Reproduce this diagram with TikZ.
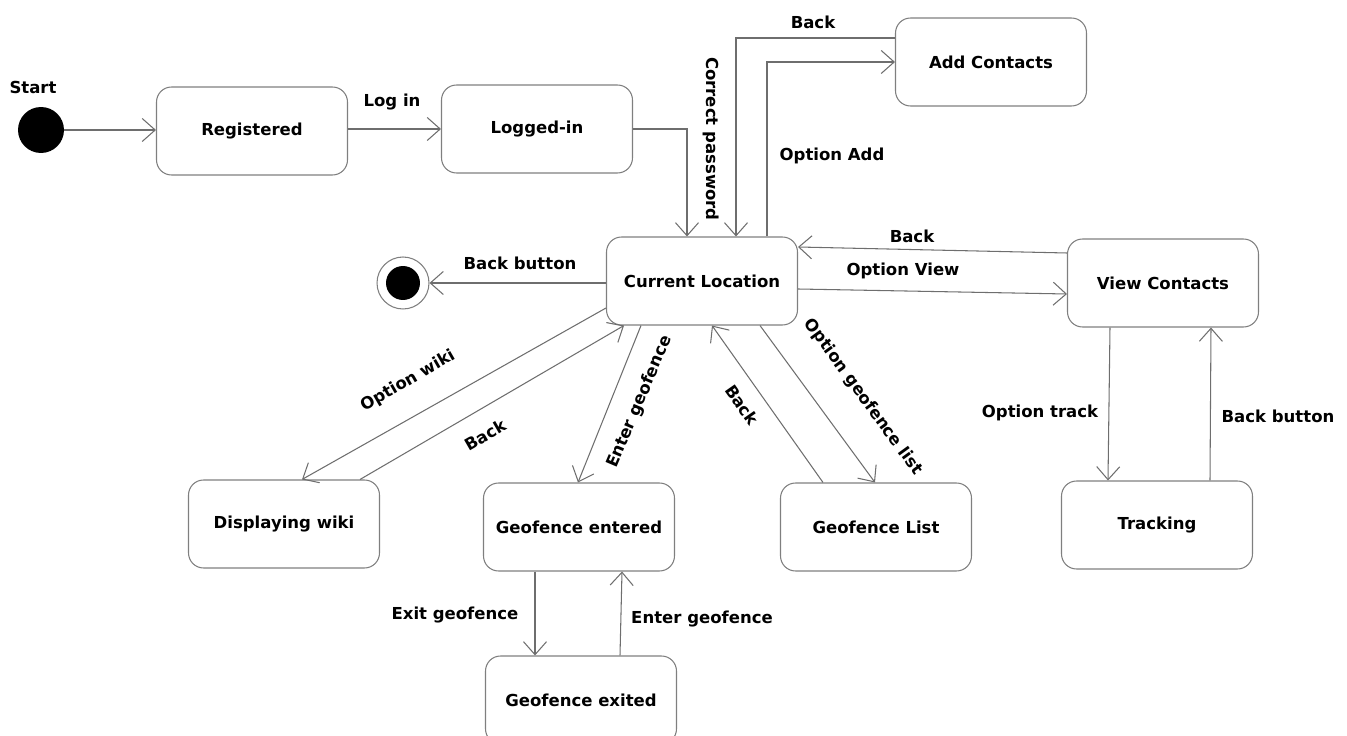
\documentclass[tikz,border=0pt]{standalone}
\usepackage{fontspec}
\setmainfont{DejaVu Sans}
\usetikzlibrary{arrows.meta}
\definecolor{boxgray}{HTML}{7F7F7F}
\definecolor{linegray}{HTML}{6E6E6E}

\begin{document}
\begin{tikzpicture}[x=0.02cm, y=-0.02cm,
    >={Straight Barb[length=2.6mm,width=4.6mm]},
    every node/.style={font=\fontsize{9.4}{11}\selectfont\bfseries},
    state/.style={draw=boxgray, line width=0.6pt, rounded corners=0.3cm,
      minimum width=3.82cm, minimum height=1.76cm},
    flow/.style={->, draw=linegray, line width=0.6pt},
    lbl/.style={inner sep=1pt}]
  \useasboundingbox (0,0) rectangle (1347,736);

  % states
  \node[circle, fill=black, minimum size=0.92cm, inner sep=0pt] (start) at (41,130) {};
  \node[lbl] (lstart) at (33,87) {Start};
  \node[state] (reg) at (252,131) {Registered};
  \node[state] (login) at (537,129) {Logged-in};
  \node[state] (add) at (991,62) {Add Contacts};
  \node[state] (cur) at (702,281) {Current Location};
  \node[circle, draw=boxgray, line width=0.6pt, minimum size=1.04cm, inner sep=0pt] (stop) at (403,283) {};
  \fill (stop) circle[radius=0.34cm];
  \node[state] (view) at (1163,283) {View Contacts};
  \node[state] (wiki) at (284,524) {Displaying wiki};
  \node[state] (gin) at (579,527) {Geofence entered};
  \node[state] (glist) at (876,527) {Geofence List};
  \node[state] (track) at (1157,525) {Tracking};
  \node[state] (gout) at (581,700) {Geofence exited};

  % transitions
  \draw[flow] (start) -- (reg.west |- start);
  \draw[flow] (reg.east |- 0,129) -- (login.west);
  \draw[flow] (login.east) -| (687,0 |- cur.north);
  \draw[flow] (add.west |- 0,38) -| (736,0 |- cur.north);
  \draw[flow] (767,0 |- cur.north) |- (add.west);
  \draw[flow] (view.west |- 0,253) -- (cur.east |- 0,247);
  \draw[flow] (cur.east |- 0,289) -- (view.west |- 0,294);
  \draw[flow] (cur.west |- stop) -- (stop);
  \draw[flow] (cur.west |- 0,308) -- (302,0 |- wiki.north);
  \draw[flow] (360,0 |- wiki.north) -- (624,0 |- cur.south);
  \draw[flow] (641,0 |- cur.south) -- (578,0 |- gin.north);
  \draw[flow] (823,0 |- glist.north) -- (712,0 |- cur.south);
  \draw[flow] (760,0 |- cur.south) -- (875,0 |- glist.north);
  \draw[flow] (535,0 |- gin.south) -- (535,0 |- gout.north);
  \draw[flow] (620,0 |- gout.north) -- (622,0 |- gin.south);
  \draw[flow] (1110,0 |- view.south) -- (1108,0 |- track.north);
  \draw[flow] (1210,0 |- track.north) -- (1211,0 |- view.south);

  % labels
  \node[lbl] (llogin) at (392,102) {Log in};
  \node[lbl, rotate=-90] (lpass) at (711,139) {Correct password};
  \node[lbl] (laddback) at (813,22) {Back};
  \node[lbl] (ladd) at (832,156) {Option Add};
  \node[lbl] (lviewback) at (912,236) {Back};
  \node[lbl] (lview) at (903,271) {Option View};
  \node[lbl] (lstop) at (520,263) {Back button};
  \node[lbl, rotate=30] (lwiki) at (408,381) {Option wiki};
  \node[lbl, rotate=30] (lwikiback) at (485,435) {Back};
  \node[lbl, rotate=67] (lenter) at (640,402) {Enter geofence};
  \node[lbl, rotate=-55] (llistback) at (742,405) {Back};
  \node[lbl, rotate=-54] (llist) at (863,397) {Option geofence list};
  \node[lbl] (lexit) at (455,615) {Exit geofence};
  \node[lbl] (lreenter) at (702,619) {Enter geofence};
  \node[lbl] (ltrack) at (1040,413) {Option track};
  \node[lbl] (ltrackback) at (1278,416) {Back button};
\end{tikzpicture}
\end{document}
